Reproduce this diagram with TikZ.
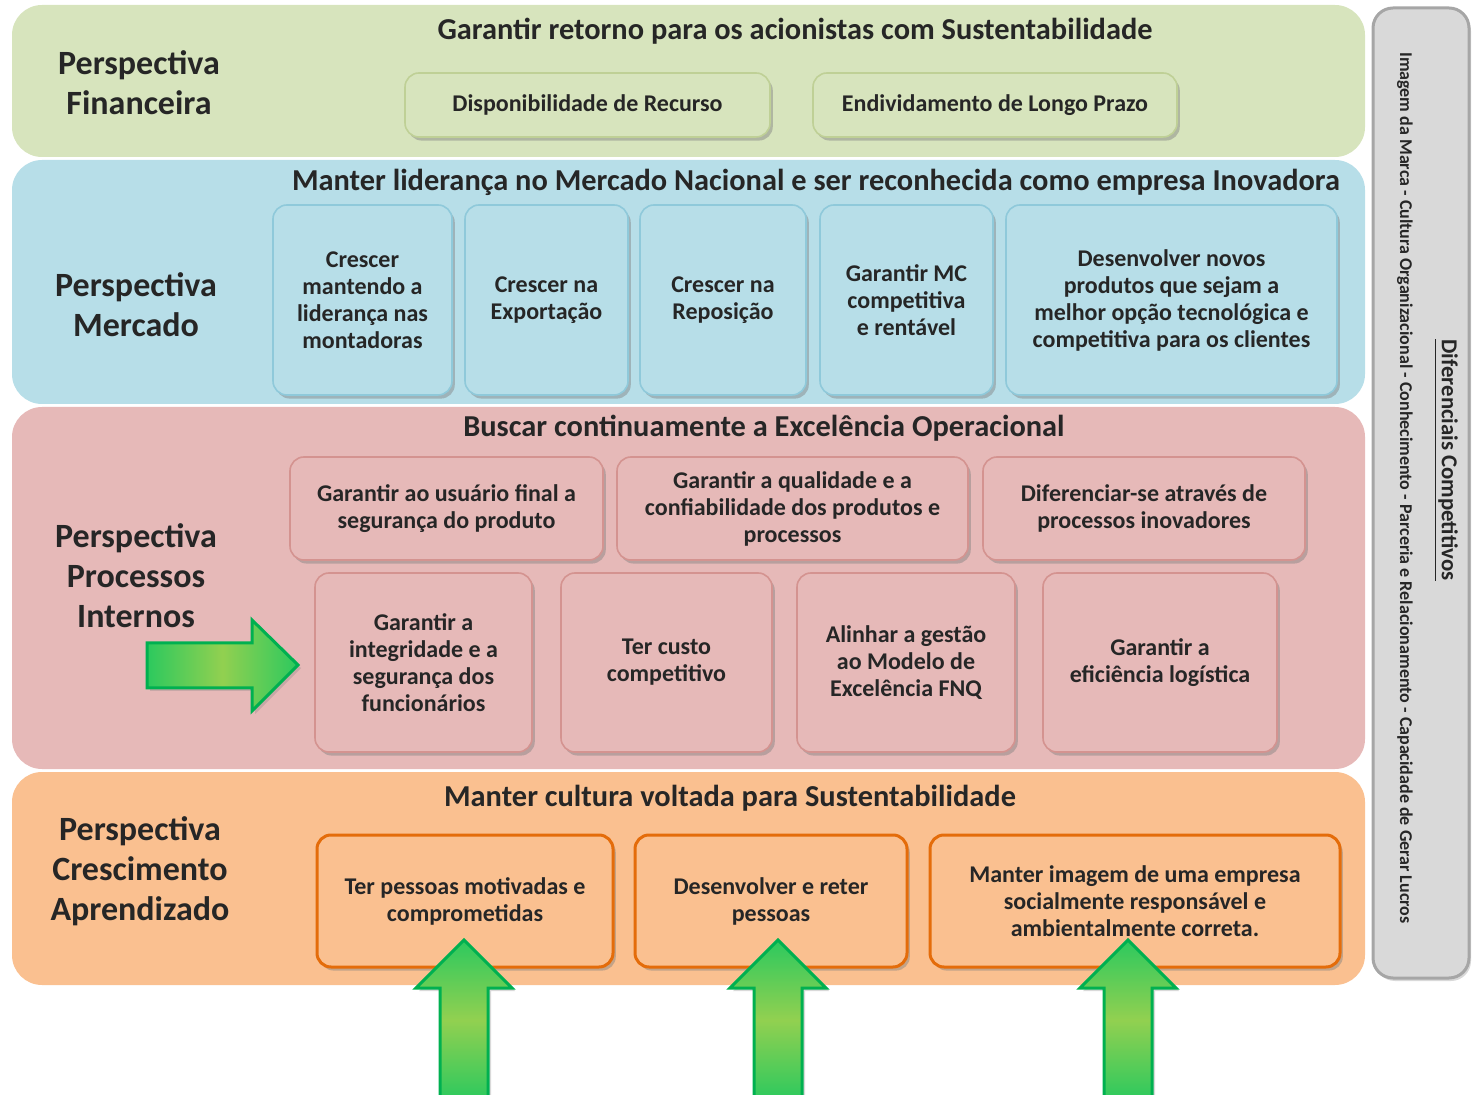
\documentclass[tikz,border=0pt]{standalone}
\usepackage{fontspec}
\setmainfont{Carlito}
\usetikzlibrary{shadows}
\definecolor{fingreen}{HTML}{D7E4BD}
\definecolor{finedge}{HTML}{BFD096}
\definecolor{mktblue}{HTML}{B7DEE8}
\definecolor{mktedge}{HTML}{8FC9DA}
\definecolor{procpink}{HTML}{E6B9B8}
\definecolor{procedge}{HTML}{D49390}
\definecolor{learnorange}{HTML}{FAC090}
\definecolor{learnedge}{HTML}{E46C0A}
\definecolor{sidegray}{HTML}{D9D9D9}
\definecolor{sideedge}{HTML}{A6A6A6}
\definecolor{arrowend}{HTML}{2CC95E}
\definecolor{arrowmid}{HTML}{92D050}
\definecolor{arrowedge}{HTML}{00B050}
\definecolor{boxtext}{HTML}{262626}
\tikzset{
 band/.style={rounded corners=15pt},
 goalbox/.style={rounded corners=7pt,inner sep=0pt,align=center,text=boxtext,line width=.8pt,
  font=\bfseries\fontsize{12}{13.5}\selectfont,
  drop shadow={shadow xshift=1.4pt,shadow yshift=-1.8pt,opacity=.45}},
 finbox/.style={goalbox,fill=fingreen,draw=finedge},
 mktbox/.style={goalbox,fill=mktblue,draw=mktedge},
 procbox/.style={goalbox,fill=procpink,draw=procedge},
 learnbox/.style={goalbox,fill=learnorange,draw=learnedge,line width=1.5pt},
 persp/.style={font=\bfseries\fontsize{17}{20}\selectfont,align=center,text=black!85},
 bandtitle/.style={font=\bfseries\fontsize{15.2}{17}\selectfont,text=black!85},
 bigarrow/.style={draw=arrowedge,line width=1.5pt,line join=miter,
  drop shadow={shadow xshift=1.5pt,shadow yshift=-1.5pt,opacity=.3}}
}
\begin{document}
\begin{tikzpicture}[x=0.5pt,y=-0.5pt]
\useasboundingbox (0,0) rectangle (1472,1095);
% bands
\fill[band,fingreen] (12,5) rectangle (1365,157);
\fill[band,mktblue] (12,160) rectangle (1365,404);
\fill[band,procpink] (12,407) rectangle (1365,769);
\fill[band,learnorange] (12,772) rectangle (1365,985);
% financeira
\node[persp] (pfin) at (139,83) {Perspectiva\\Financeira};
\node[bandtitle] (tfin) at (795,31) {Garantir retorno para os acionistas com Sustentabilidade};
\node[finbox,minimum width=182.5pt,minimum height=32pt] (f1) at (587.5,105) {Disponibilidade de Recurso};
\node[finbox,minimum width=182pt,minimum height=32pt] (f2) at (995,105) {Endividamento de Longo Prazo};
% mercado
\node[persp] (pmkt) at (136,305) {Perspectiva\\Mercado};
\node[bandtitle] (tmkt) at (816,182) {Manter liderança no Mercado Nacional e ser reconhecida como empresa Inovadora};
\node[mktbox,minimum width=89.5pt,minimum height=95pt] (m1) at (362.5,300) {Crescer\\mantendo a\\liderança nas\\montadoras};
\node[mktbox,minimum width=81.5pt,minimum height=95pt] (m2) at (546.5,300) {Crescer na\\Exportação};
\node[mktbox,minimum width=83pt,minimum height=95pt] (m3) at (723,300) {Crescer na\\Reposição};
\node[mktbox,minimum width=86.5pt,minimum height=95pt] (m4) at (906.5,300) {Garantir MC\\competitiva\\e rentável};
\node[mktbox,minimum width=165.5pt,minimum height=95pt] (m5) at (1171.5,300) {Desenvolver novos\\produtos que sejam a\\melhor opção tecnológica e\\competitiva para os clientes};
% processos internos
\node[persp] (pproc) at (136,576) {Perspectiva\\Processos\\Internos};
\node[bandtitle] (tproc) at (764,428) {Buscar continuamente a Excelência Operacional};
\node[procbox,minimum width=156.5pt,minimum height=51.5pt] (p1) at (446.5,508.5) {Garantir ao usuário final a\\segurança do produto};
\node[procbox,minimum width=175.5pt,minimum height=51.5pt] (p2) at (792.5,508.5) {Garantir a qualidade e a\\confiabilidade dos produtos e\\processos};
\node[procbox,minimum width=161pt,minimum height=51.5pt] (p3) at (1144,508.5) {Diferenciar-se através de\\processos inovadores};
\node[procbox,minimum width=108.5pt,minimum height=89.5pt] (p4) at (423.5,662.5) {Garantir a\\integridade e a\\segurança dos\\funcionários};
\node[procbox,minimum width=105.5pt,minimum height=89.5pt] (p5) at (666.5,662.5) {Ter custo\\competitivo};
\node[procbox,minimum width=109pt,minimum height=89.5pt] (p6) at (906,662.5) {Alinhar a gestão\\ao Modelo de\\Excelência FNQ};
\node[procbox,minimum width=117pt,minimum height=89.5pt] (p7) at (1160,662.5) {Garantir a\\eficiência logística};
% crescimento e aprendizado
\node[persp] (plearn) at (140,871) {Perspectiva\\Crescimento\\Aprendizado};
\node[bandtitle] (tlearn) at (730,798) {Manter cultura voltada para Sustentabilidade};
\node[learnbox,minimum width=148pt,minimum height=66pt] (l1) at (465,901) {Ter pessoas motivadas e\\comprometidas};
\node[learnbox,minimum width=136pt,minimum height=66pt] (l2) at (771,901) {Desenvolver e reter\\pessoas};
\node[learnbox,minimum width=205pt,minimum height=66pt] (l3) at (1135,901) {Manter imagem de uma empresa\\socialmente responsável e\\ambientalmente correta.};
% side panel
\draw[fill=sidegray,draw=sideedge,line width=1.5pt,rounded corners=10pt,
  drop shadow={shadow xshift=1pt,shadow yshift=-1.5pt,opacity=.3}] (1373,8) rectangle (1469,978);
\node[rotate=-90,font=\bfseries\fontsize{9}{10}\selectfont,text=black!85] (sidelist) at (1405,488)
  {Imagem da Marca - Cultura Organizacional - Conhecimento - Parceria e Relacionamento - Capacidade de Gerar Lucros};
\node[rotate=-90,font=\bfseries\fontsize{11.4}{12}\selectfont,text=black!85] (sidetitle) at (1446,460)
  {\underline{Diferenciais Competitivos}};
% arrows
\draw[bigarrow,left color=arrowend,right color=arrowend,middle color=arrowmid]
  (147,643) -- (252,643) -- (252,620) -- (298,665) -- (252,711) -- (252,688) -- (147,688) -- cycle;
\begin{scope}
\clip (0,0) rectangle (1472,1095);
\foreach \ax in {464,778,1128}
  \draw[bigarrow,top color=arrowend,bottom color=arrowend,middle color=arrowmid]
    (\ax-24,1100) -- (\ax-24,988) -- (\ax-48,988) -- (\ax,940) -- (\ax+48,988) -- (\ax+24,988) -- (\ax+24,1100) -- cycle;
\end{scope}
\end{tikzpicture}
\end{document}
